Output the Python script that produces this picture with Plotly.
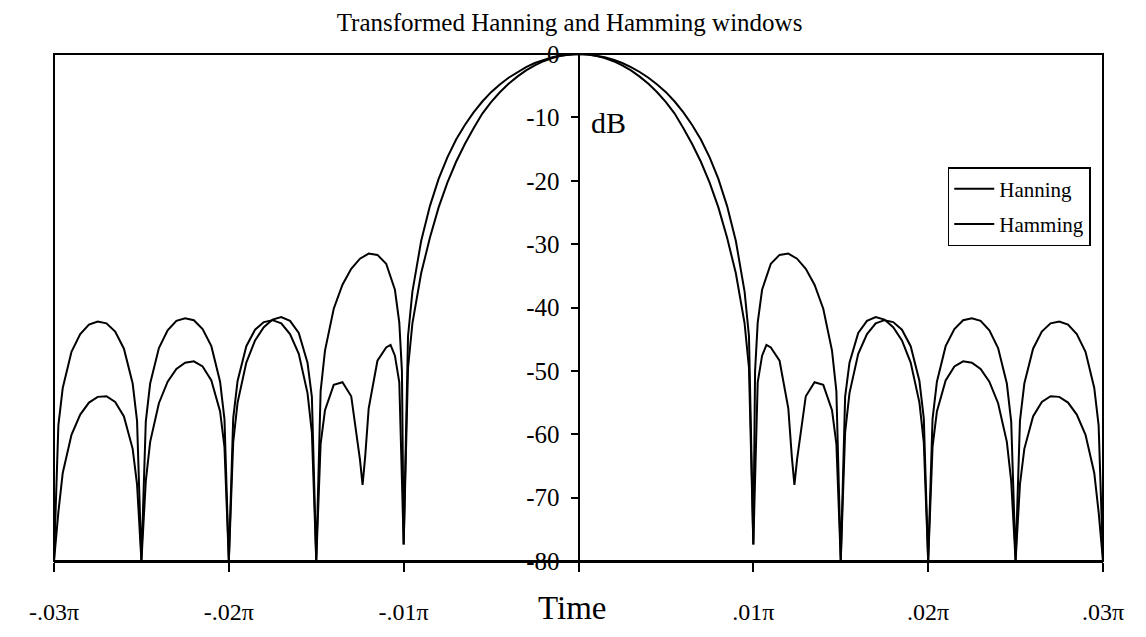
import plotly.graph_objects as go

title_text = "Transformed Hanning and Hamming windows"
x_tick_vals = [-0.03, -0.02, -0.01, 0.0, 0.01, 0.02, 0.03]
x_tick_text = ["-.03π", "-.02π", "-.01π", "", ".01π", ".02π", ".03π"]
y_tick_vals = [-80, -70, -60, -50, -40, -30, -20, -10, 0]
y_tick_text = ["-80", "-70", "-60", "-50", "-40", "-30", "-20", "-10", "0"]

# x in units of pi, values in dB
hanning_x = [
    -0.03, -0.02975, -0.0295, -0.029, -0.0285, -0.028, -0.0275, -0.027, -0.0265, -0.026, -0.0255, -0.02525, -0.025,
    -0.02475, -0.0245, -0.024, -0.0235, -0.023, -0.0225, -0.022, -0.0215, -0.021, -0.0205, -0.02025, -0.02,
    -0.01975, -0.0195, -0.019, -0.0185, -0.018, -0.0175, -0.017, -0.0165, -0.016, -0.0155, -0.01525, -0.015,
    -0.01475, -0.0145, -0.014, -0.0135, -0.013, -0.0125, -0.012, -0.0115, -0.011, -0.0105, -0.01025, -0.0101, -0.01,
    -0.00975, -0.0095, -0.009, -0.0085, -0.008, -0.0075, -0.007, -0.0065, -0.006, -0.0055, -0.005,
    -0.0045, -0.004, -0.0035, -0.003, -0.0025, -0.002, -0.0015, -0.001, -0.0005,
    0.0, 0.0005, 0.001, 0.0015, 0.002, 0.0025, 0.003, 0.0035, 0.004, 0.0045,
    0.005, 0.0055, 0.006, 0.0065, 0.007, 0.0075, 0.008, 0.0085, 0.009, 0.0095, 0.00975, 0.01,
    0.0101, 0.01025, 0.0105, 0.011, 0.0115, 0.012, 0.0125, 0.013, 0.0135, 0.014, 0.0145, 0.01475, 0.015,
    0.01525, 0.0155, 0.016, 0.0165, 0.017, 0.0175, 0.018, 0.0185, 0.019, 0.0195, 0.01975, 0.02,
    0.02025, 0.0205, 0.021, 0.0215, 0.022, 0.0225, 0.023, 0.0235, 0.024, 0.0245, 0.02475, 0.025,
    0.02525, 0.0255, 0.026, 0.0265, 0.027, 0.0275, 0.028, 0.0285, 0.029, 0.0295, 0.02975, 0.03,
]
hanning_db = [
    -80, -72.3, -66.1, -60.1, -56.9, -55.0, -54.1, -54.0, -54.9, -57.2, -62.3, -67.9, -80,
    -67.4, -61.2, -55.1, -51.7, -49.7, -48.7, -48.5, -49.3, -51.5, -56.4, -62.0, -80,
    -61.3, -55.0, -48.7, -45.2, -43.1, -41.9, -41.5, -42.1, -44.0, -48.7, -54.1, -80,
    -53.2, -46.8, -40.2, -36.4, -33.9, -32.3, -31.5, -31.7, -33.1, -37.2, -42.4, -50.0, -77.4,
    -44.5, -37.5, -29.5, -24.0, -19.7, -16.3, -13.5, -11.2, -9.2, -7.5, -6.02,
    -4.80, -3.75, -2.84, -2.07, -1.42, -0.91, -0.51, -0.23, -0.06,
    0.0, -0.06, -0.23, -0.51, -0.91, -1.42, -2.07, -2.84, -3.75, -4.80,
    -6.02, -7.5, -9.2, -11.2, -13.5, -16.3, -19.7, -24.0, -29.5, -37.5, -44.5, -77.4,
    -50.0, -42.4, -37.2, -33.1, -31.7, -31.5, -32.3, -33.9, -36.4, -40.2, -46.8, -53.2, -80,
    -54.1, -48.7, -44.0, -42.1, -41.5, -41.9, -43.1, -45.2, -48.7, -55.0, -61.3, -80,
    -62.0, -56.4, -51.5, -49.3, -48.5, -48.7, -49.7, -51.7, -55.1, -61.2, -67.4, -80,
    -67.9, -62.3, -57.2, -54.9, -54.0, -54.1, -55.0, -56.9, -60.1, -66.1, -72.3, -80,
]

hamming_x = [
    -0.03, -0.02975, -0.0295, -0.029, -0.0285, -0.028, -0.0275, -0.027, -0.0265, -0.026, -0.0255, -0.02525, -0.025,
    -0.02475, -0.0245, -0.024, -0.0235, -0.023, -0.0225, -0.022, -0.0215, -0.021, -0.0205, -0.02025, -0.02,
    -0.01975, -0.0195, -0.019, -0.0185, -0.018, -0.0175, -0.017, -0.0165, -0.016, -0.0155, -0.01525, -0.015,
    -0.01475, -0.0145, -0.014, -0.0135, -0.013, -0.0125, -0.01235, -0.0122, -0.012, -0.0115, -0.011, -0.01075,
    -0.0105, -0.01025, -0.01,
    -0.00975, -0.0095, -0.009, -0.0085, -0.008, -0.0075, -0.007, -0.0065, -0.006, -0.0055, -0.005,
    -0.0045, -0.004, -0.0035, -0.003, -0.0025, -0.002, -0.0015, -0.001, -0.0005,
    0.0, 0.0005, 0.001, 0.0015, 0.002, 0.0025, 0.003, 0.0035, 0.004, 0.0045,
    0.005, 0.0055, 0.006, 0.0065, 0.007, 0.0075, 0.008, 0.0085, 0.009, 0.0095, 0.00975, 0.01,
    0.01025, 0.0105, 0.01075, 0.011, 0.0115, 0.012, 0.0122, 0.01235, 0.0125, 0.013, 0.0135, 0.014, 0.0145,
    0.01475, 0.015,
    0.01525, 0.0155, 0.016, 0.0165, 0.017, 0.0175, 0.018, 0.0185, 0.019, 0.0195, 0.01975, 0.02,
    0.02025, 0.0205, 0.021, 0.0215, 0.022, 0.0225, 0.023, 0.0235, 0.024, 0.0245, 0.02475, 0.025,
    0.02525, 0.0255, 0.026, 0.0265, 0.027, 0.0275, 0.028, 0.0285, 0.029, 0.0295, 0.02975, 0.03,
]
hamming_db = [
    -80, -58.6, -52.7, -47.0, -44.2, -42.7, -42.2, -42.5, -43.8, -46.5, -52.0, -57.9, -80,
    -58.0, -52.0, -46.4, -43.6, -42.1, -41.7, -42.0, -43.4, -46.1, -51.7, -57.6, -80,
    -57.5, -51.6, -46.1, -43.5, -42.3, -42.0, -42.5, -44.2, -47.3, -53.5, -59.7, -80,
    -61.5, -56.2, -52.2, -51.8, -54.0, -64.0, -68.0, -63.5, -55.9, -48.4, -46.3, -45.9,
    -47.6, -51.8, -77.4,
    -49.5, -42.5, -34.6, -29.0, -24.2, -20.3, -17.0, -14.2, -11.7, -9.4, -7.58,
    -6.04, -4.71, -3.57, -2.59, -1.79, -1.14, -0.64, -0.28, -0.07,
    0.0, -0.07, -0.28, -0.64, -1.14, -1.79, -2.59, -3.57, -4.71, -6.04,
    -7.58, -9.4, -11.7, -14.2, -17.0, -20.3, -24.2, -29.0, -34.6, -42.5, -49.5, -77.4,
    -51.8, -47.6, -45.9, -46.3, -48.4, -55.9, -63.5, -68.0, -64.0, -54.0, -51.8, -52.2, -56.2,
    -61.5, -80,
    -59.7, -53.5, -47.3, -44.2, -42.5, -42.0, -42.3, -43.5, -46.1, -51.6, -57.5, -80,
    -57.6, -51.7, -46.1, -43.4, -42.0, -41.7, -42.1, -43.6, -46.4, -52.0, -58.0, -80,
    -57.9, -52.0, -46.5, -43.8, -42.5, -42.2, -42.7, -44.2, -47.0, -52.7, -58.6, -80,
]

series_names = ["Hanning", "Hamming"]

FONT = "Liberation Serif, Times New Roman, serif"

fig = go.Figure()
for name, xs, ys in [(series_names[0], hanning_x, hanning_db),
                     (series_names[1], hamming_x, hamming_db)]:
    fig.add_trace(go.Scatter(
        x=xs, y=ys, mode="lines", name=name, legendgroup=name,
        line=dict(color="black", width=2),
    ))

fig.update_layout(
    width=1146, height=637,
    margin=dict(l=54, r=43, t=54, b=62),
    paper_bgcolor="white", plot_bgcolor="white",
    font=dict(family=FONT, color="black"),
    title=dict(text=title_text, x=0.497, xanchor="center", y=0.965, yanchor="middle",
               font=dict(family=FONT, size=25, color="black")),
    showlegend=True,
    legend=dict(x=0.852, y=0.777, xanchor="left", yanchor="top",
                bordercolor="black", borderwidth=1.5, bgcolor="white",
                font=dict(family=FONT, size=21, color="black"),
                itemwidth=40,
                traceorder="grouped", tracegroupgap=5),
    xaxis=dict(range=[-0.03, 0.03], tickvals=x_tick_vals, ticktext=x_tick_text,
               ticks="outside", ticklen=9, tickwidth=1.5, tickcolor="black",
               showline=True, linecolor="black", linewidth=2,
               showgrid=False, zeroline=False,
               tickfont=dict(family=FONT, size=24, color="black"),
               ticklabelstandoff=19),
    yaxis=dict(range=[-80, 0], tickvals=y_tick_vals, ticktext=y_tick_text,
               anchor="free", position=0.5,
               ticks="outside", ticklen=7, tickwidth=1.5, tickcolor="black",
               showline=True, linecolor="black", linewidth=2,
               showgrid=False, zeroline=False,
               tickfont=dict(family=FONT, size=25, color="black"),
               ticklabelstandoff=6),
    shapes=[dict(type="rect", xref="paper", yref="paper", x0=0, x1=1, y0=0, y1=1,
                 line=dict(color="black", width=2), layer="above")],
    annotations=[
        dict(text="Time", xref="paper", x=0.5, xshift=-7, yref="paper", y=0, yshift=-47,
             xanchor="center", yanchor="middle", showarrow=False,
             font=dict(family=FONT, size=33, color="black")),
        dict(text="dB", xref="paper", x=0.5, xshift=10, yref="y", y=-10, yshift=-5,
             xanchor="left", yanchor="middle", showarrow=False,
             font=dict(family=FONT, size=30, color="black")),
    ],
)

fig.write_html("out.html")
